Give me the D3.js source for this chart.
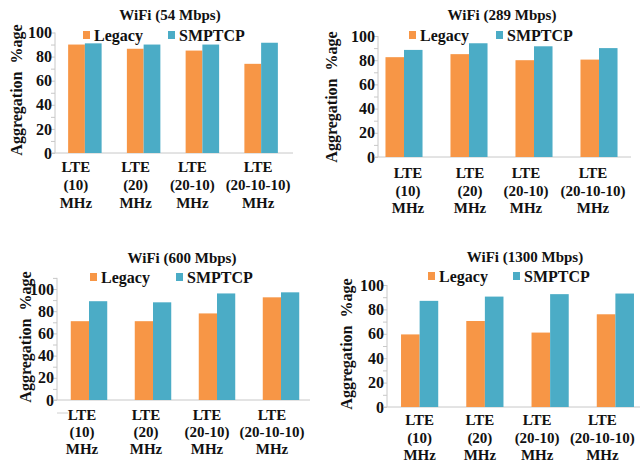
<!DOCTYPE html>
<html>
<head>
<meta charset="utf-8">
<script src="https://cdn.jsdelivr.net/npm/d3@7"></script>
<style>
  html, body { margin: 0; padding: 0; background: #fff; }
  svg { display: block; }
  text { font-family: "Liberation Serif", "Times New Roman", serif; font-weight: bold; fill: #111; }
</style>
</head>
<body>
<svg id="chart" width="641" height="464"></svg>
<script>
// ---------------- data ----------------
const categories = [
  ["LTE", "(10)", "MHz"],
  ["LTE", "(20)", "MHz"],
  ["LTE", "(20-10)", "MHz"],
  ["LTE", "(20-10-10)", "MHz"]
];
const seriesNames = ["Legacy", "SMPTCP"];
const titles = ["WiFi (54 Mbps)", "WiFi (289 Mbps)", "WiFi (600 Mbps)", "WiFi (1300 Mbps)"];
const yTicks = [0, 20, 40, 60, 80, 100];
const yTitle = "Aggregation  %age";

const legacy54    = [90, 86.5, 85, 74];
const smptcp54    = [91, 90, 90, 91.5];
const legacy289   = [82.5, 85, 80, 80.5];
const smptcp289   = [88.5, 94, 91.5, 90];
const legacy600   = [71, 71, 78, 92.5];
const smptcp600   = [89, 88, 96, 97];
const legacy1300  = [59.5, 70.5, 61, 76];
const smptcp1300  = [87, 90.5, 92.5, 93];

const colors = ["#F79646", "#4BACC6"];

// ---------------- layout (positions only) ----------------
const panels = [
  { title: titles[0], data: [legacy54, smptcp54], axisX: 55, y0: 153, y100: 32.5, yMax: 100,
    band: [55.5, 290.5], baseEnd: 293, titleX: 170, titleY: 20,
    legY: 31, legSq: [83, 168], yTitleX: 22, yTitleY: 90, labY: 172, labDy: 18,
    labShift: [-9, -8, -10, -3] },
  { title: titles[1], data: [legacy289, smptcp289], axisX: 378, y0: 157, y100: 36, yMax: 100,
    band: [371.5, 631.5], baseEnd: 631, titleX: 502, titleY: 20,
    legY: 31, legSq: [409, 496], yTitleX: 337, yTitleY: 97, labY: 178, labDy: 17.5,
    labShift: [4, 1, -8, -6] },
  { title: titles[2], data: [legacy600, smptcp600], axisX: 57, y0: 400, y100: 289, yMax: 110,
    band: [57, 313], baseEnd: 310, titleX: 182, titleY: 263,
    legY: 273, legSq: [90, 176], yTitleX: 31, yTitleY: 337, labY: 420, labDy: 17,
    labShift: [-7, -7, -10, -9] },
  { title: titles[3], data: [legacy1300, smptcp1300], axisX: 387, y0: 407, y100: 285, yMax: 100,
    band: [387, 648], baseEnd: 640, titleX: 525, titleY: 262,
    legY: 272, legSq: [428, 513], yTitleX: 352, yTitleY: 344, labY: 425, labDy: 17.5,
    labShift: [0, -5, -13, -13] }
];

const svg = d3.select("#chart");

panels.forEach((p, pi) => {
  const g = svg.append("g");

  const y = d3.scaleLinear().domain([0, 100]).range([p.y0, p.y100]);
  const x0 = d3.scaleBand().domain(d3.range(categories.length))
    .range(p.band).paddingInner(0.43).paddingOuter(0.215);
  const x1 = d3.scaleBand().domain(d3.range(seriesNames.length))
    .range([0, x0.bandwidth()]);

  // y axis with minor ticks every 10
  const tickVals = d3.range(0, p.yMax + 1, 10);
  const yAxis = d3.axisLeft(y).tickValues(tickVals)
    .tickSize(4).tickPadding(-1)
    .tickFormat(d => yTicks.includes(d) ? d : "");
  const ya = g.append("g").attr("transform", `translate(${p.axisX},0)`).call(yAxis);
  ya.select(".domain").attr("stroke", "#c8c8c8").attr("d", `M0,${p.y0}V${y(p.yMax)}`);
  ya.selectAll(".tick line").attr("stroke", "#c8c8c8");
  ya.selectAll(".tick text").attr("font-size", 16)
    .attr("font-family", "Liberation Serif, Times New Roman, serif")
    .attr("font-weight", "bold").attr("fill", "#111");

  // baseline
  g.append("line").attr("x1", p.axisX - 4).attr("x2", p.baseEnd)
    .attr("y1", p.y0).attr("y2", p.y0).attr("stroke", "#c8c8c8");

  // bars
  const groups = g.selectAll("g.grp").data(categories).join("g")
    .attr("transform", (d, i) => `translate(${x0(i)},0)`);
  groups.selectAll("rect").data((d, i) => p.data.map(s => s[i])).join("rect")
    .attr("x", (d, j) => x1(j))
    .attr("width", x1.bandwidth())
    .attr("y", d => y(d))
    .attr("height", d => p.y0 - y(d))
    .attr("fill", (d, j) => colors[j]);

  // category labels
  categories.forEach((lines, i) => {
    const cx = x0(i) + x0.bandwidth() / 2 + p.labShift[i];
    lines.forEach((t, k) => {
      g.append("text").attr("x", cx).attr("y", p.labY + k * p.labDy)
        .attr("text-anchor", "middle").attr("font-size", 15).text(t);
    });
  });

  // title
  g.append("text").attr("x", p.titleX).attr("y", p.titleY)
    .attr("text-anchor", "middle").attr("font-size", 15).text(p.title);

  // legend
  seriesNames.forEach((s, j) => {
    g.append("rect").attr("x", p.legSq[j]).attr("y", p.legY)
      .attr("width", 7).attr("height", 8).attr("fill", colors[j]);
    g.append("text").attr("x", p.legSq[j] + 11).attr("y", p.legY + 9.5)
      .attr("font-size", 16).text(s);
  });

  // y title
  g.append("text")
    .attr("transform", `translate(${p.yTitleX},${p.yTitleY}) rotate(-90)`)
    .attr("text-anchor", "middle").attr("font-size", 16)
    .style("white-space", "pre").text(yTitle);
});

// small stray gridline segment visible in the third panel
svg.append("line").attr("x1", 57).attr("x2", 68).attr("y1", 413).attr("y2", 413)
  .attr("stroke", "#d0d0d0");
</script>
</body>
</html>
